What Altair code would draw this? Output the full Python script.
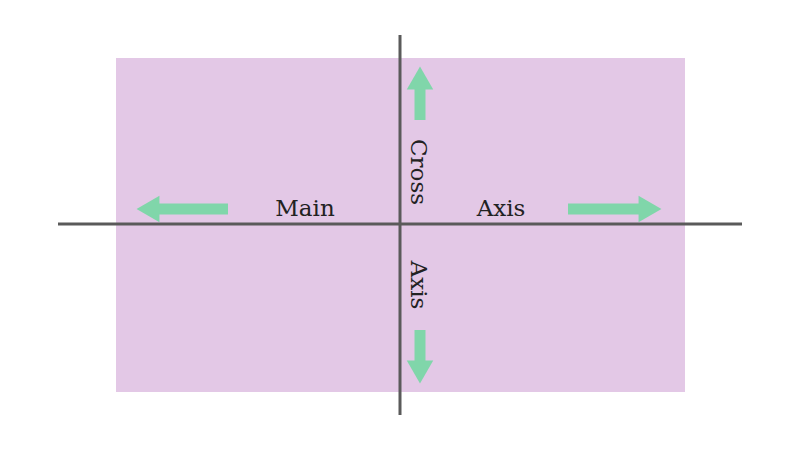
import altair as alt
import pandas as pd

# rectangle (pixel coords in screenshot)
rect = pd.DataFrame({"x": [116], "x2": [685], "y": [58], "y2": [392]})
# axis lines
lines = pd.DataFrame({"x": [58, 400], "x2": [742, 400], "y": [224, 35], "y2": [224, 415]})
# arrow shafts
shafts = pd.DataFrame({"x": [228, 568, 420, 420], "x2": [155, 642, 420, 420],
                       "y": [209, 209, 120, 330], "y2": [209, 209, 85, 365]})
# arrow heads
heads = pd.DataFrame({"x": [148, 650, 420, 420], "y": [209, 209, 78, 372],
                      "shape": ["triangle-left", "triangle-right", "triangle-up", "triangle-down"]})
labels = pd.DataFrame({"x": [305, 501], "y": [209, 209], "t": ["Main", "Axis"]})
vlabels = pd.DataFrame({"x": [418, 418], "y": [172, 285], "t": ["Cross", "Axis"]})

X = alt.Scale(domain=[8, 792])
Y = alt.Scale(domain=[8, 442], range=[0, 434])
def xe(f="x"): return alt.X(f"{f}:Q", scale=X, axis=None)
def ye(f="y"): return alt.Y(f"{f}:Q", scale=Y, axis=None)

green = "#80d6aa"
r = alt.Chart(rect).mark_rect(color="#e3c8e6").encode(x=xe(), x2="x2", y=ye(), y2="y2")
l = alt.Chart(lines).mark_rule(color="#5a5a5a", strokeWidth=3).encode(x=xe(), x2="x2", y=ye(), y2="y2")
s = alt.Chart(shafts).mark_rule(color=green, strokeWidth=11).encode(x=xe(), x2="x2", y=ye(), y2="y2")
h = alt.Chart(heads).mark_point(filled=True, opacity=1, color=green, size=700).encode(
    x=xe(), y=ye(), shape=alt.Shape("shape:N", scale=None))
t = alt.Chart(labels).mark_text(font="DejaVu Serif", fontSize=23, color="#222").encode(x=xe(), y=ye(), text="t:N")
vt = alt.Chart(vlabels).mark_text(font="DejaVu Serif", fontSize=23, color="#222", angle=90).encode(x=xe(), y=ye(), text="t:N")

chart = (r + l + s + h + t + vt).properties(width=784, height=434, padding=0, autosize="none",
                                            background="white").configure_view(stroke=None)
chart.save("out.html", embed_options={"renderer": "svg", "actions": False})
